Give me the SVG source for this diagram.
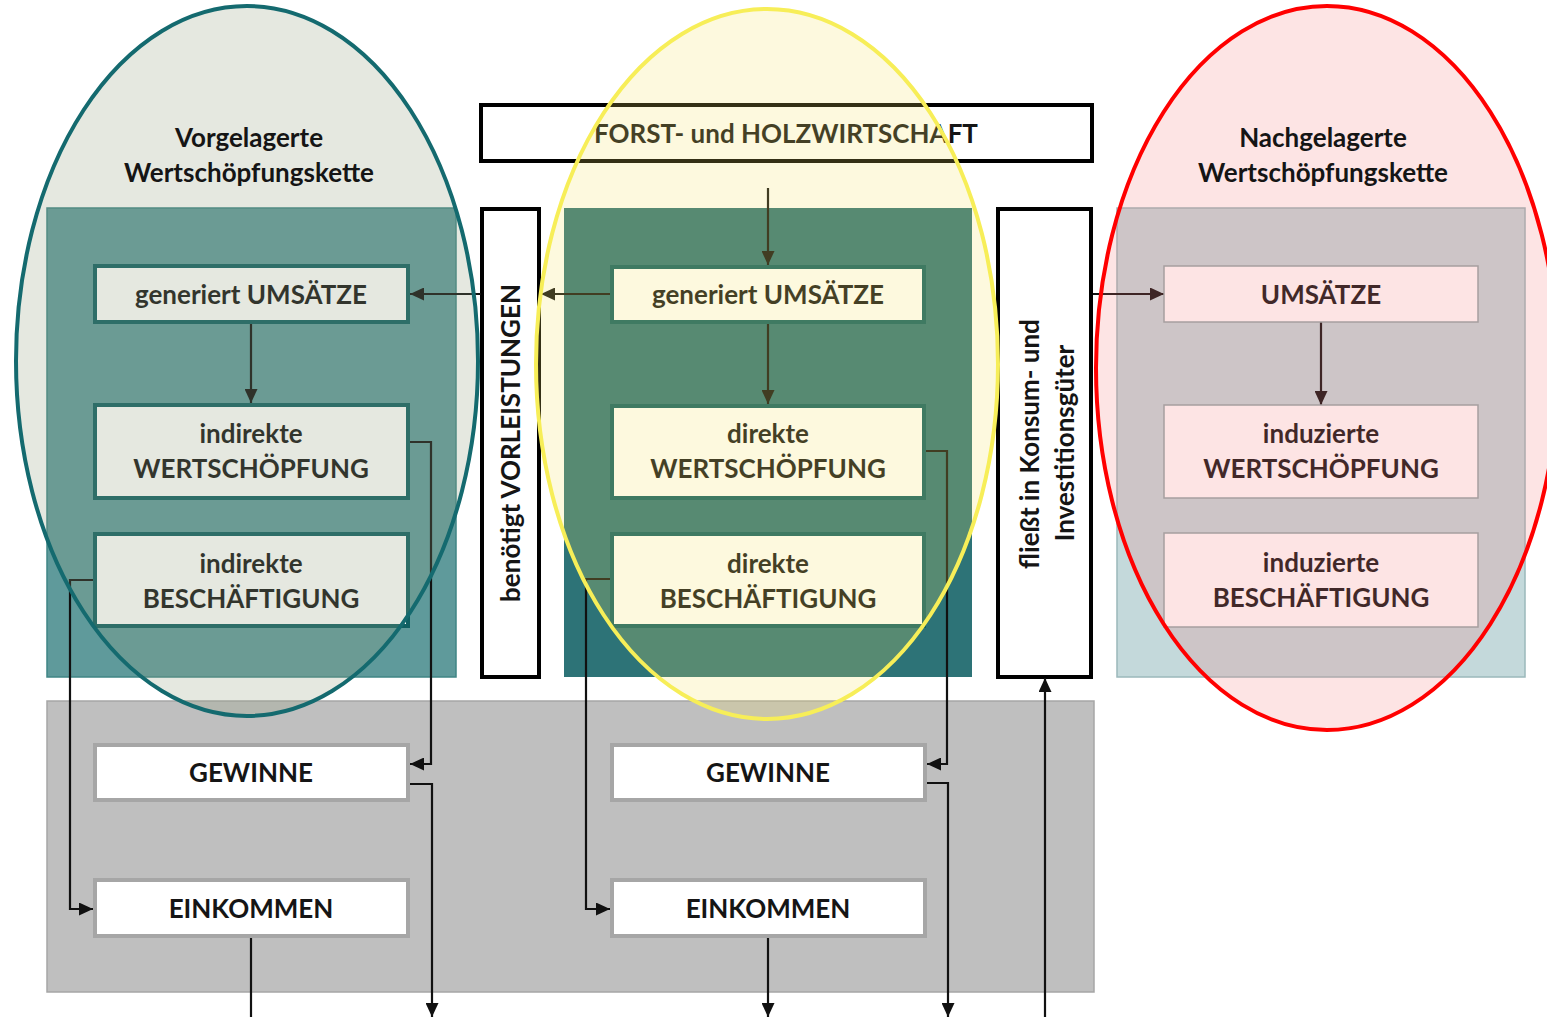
<svg xmlns="http://www.w3.org/2000/svg" width="1547" height="1017" viewBox="0 0 1547 1017">
<style>
text { font-family: Lato, "Open Sans", "Liberation Sans", sans-serif; font-weight: bold; font-size: 26px; fill: #151515; text-anchor: middle; }
.conn { fill: none; stroke: #111; stroke-width: 2.2; }
.ibox { fill: #fff; stroke: #0f5f62; stroke-width: 4; }
.rbox { fill: #fff; stroke: #93a9ab; stroke-width: 1.5; }
.gbox { fill: #fff; stroke: #a6a6a6; stroke-width: 4; }
.bbox { fill: #fff; stroke: #000; stroke-width: 4; }
</style>
<defs>
<marker id="ah" markerUnits="userSpaceOnUse" markerWidth="14" markerHeight="13" refX="14" refY="6.5" orient="auto">
<path d="M0,0 L14,6.5 L0,13 z" fill="#111"/>
</marker>
</defs>

<g id="backgrounds">
<rect id="panel-left" x="47" y="208" width="409" height="469" fill="#5f9a9b" stroke="#3f8585" stroke-width="1.5"/>
<rect id="panel-center" x="564" y="208" width="408" height="469" fill="#2d7377"/>
<rect id="panel-right" x="1117" y="208" width="408" height="469" fill="#c4d9db" stroke="#9bb8bb" stroke-width="1.5"/>
<rect id="panel-bottom" x="47" y="701" width="1047" height="291" fill="#bfbfbf" stroke="#a6a6a6" stroke-width="1.5"/>
</g>

<g id="forst"><rect class="bbox" x="481" y="105" width="611" height="56"/><text x="786" y="143">FORST- und HOLZWIRTSCHAFT</text></g>
<g id="vorleistungen"><rect class="bbox" x="482" y="209" width="57" height="468"/><text transform="translate(520,443) rotate(-90)">benötigt VORLEISTUNGEN</text></g>
<g id="konsum"><rect class="bbox" x="998" y="209" width="93" height="468"/><text transform="translate(1039,444) rotate(-90)">fließt in Konsum- und</text><text transform="translate(1074,443) rotate(-90)">Investitionsgüter</text></g>

<g id="connectors">
<path class="conn" d="M768,188 V265" marker-end="url(#ah)"/>
<path class="conn" d="M610,294 H541" marker-end="url(#ah)"/>
<path class="conn" d="M481,294 H410" marker-end="url(#ah)"/>
<path class="conn" d="M251,324 V403" marker-end="url(#ah)"/>
<path class="conn" d="M768,324 V404" marker-end="url(#ah)"/>
<path class="conn" d="M1093,294 H1164" marker-end="url(#ah)"/>
<path class="conn" d="M1321,322 V405" marker-end="url(#ah)"/>
<path class="conn" d="M409,442 H431 V764 H410" marker-end="url(#ah)"/>
<path class="conn" d="M409,784 H432 V1017" marker-end="url(#ah)"/>
<path class="conn" d="M93,580 H70 V909 H93" marker-end="url(#ah)"/>
<path class="conn" d="M251,937 V1017"/>
<path class="conn" d="M926,451 H947 V764 H927" marker-end="url(#ah)"/>
<path class="conn" d="M926,783 H948 V1017" marker-end="url(#ah)"/>
<path class="conn" d="M610,579 H586 V909 H610" marker-end="url(#ah)"/>
<path class="conn" d="M768,937 V1017" marker-end="url(#ah)"/>
<path class="conn" d="M1045,1017 V678" marker-end="url(#ah)"/>
</g>

<g id="l-umsatz"><rect class="ibox" x="95" y="266" width="313" height="56"/><text x="251" y="304">generiert UMSÄTZE</text></g>
<g id="l-wert"><rect class="ibox" x="95" y="405" width="313" height="93"/><text x="251" y="443">indirekte</text><text x="251" y="478">WERTSCHÖPFUNG</text></g>
<g id="l-besch"><rect class="ibox" x="95" y="534" width="313" height="92"/><text x="251" y="573">indirekte</text><text x="251" y="608">BESCHÄFTIGUNG</text></g>
<g id="l-gewinne"><rect class="gbox" x="95" y="745" width="313" height="55"/><text x="251" y="782">GEWINNE</text></g>
<g id="l-einkommen"><rect class="gbox" x="95" y="880" width="313" height="56"/><text x="251" y="918">EINKOMMEN</text></g>

<g id="c-umsatz"><rect class="ibox" x="612" y="267" width="312" height="55"/><text x="768" y="304">generiert UMSÄTZE</text></g>
<g id="c-wert"><rect class="ibox" x="612" y="406" width="312" height="92"/><text x="768" y="443">direkte</text><text x="768" y="478">WERTSCHÖPFUNG</text></g>
<g id="c-besch"><rect class="ibox" x="612" y="534" width="312" height="92"/><text x="768" y="573">direkte</text><text x="768" y="608">BESCHÄFTIGUNG</text></g>
<g id="c-gewinne"><rect class="gbox" x="612" y="745" width="313" height="55"/><text x="768" y="782">GEWINNE</text></g>
<g id="c-einkommen"><rect class="gbox" x="612" y="880" width="313" height="56"/><text x="768" y="918">EINKOMMEN</text></g>

<g id="r-umsatz"><rect class="rbox" x="1164" y="266" width="314" height="56"/><text x="1321" y="304">UMSÄTZE</text></g>
<g id="r-wert"><rect class="rbox" x="1164" y="405" width="314" height="93"/><text x="1321" y="443">induzierte</text><text x="1321" y="478">WERTSCHÖPFUNG</text></g>
<g id="r-besch"><rect class="rbox" x="1164" y="533" width="314" height="94"/><text x="1321" y="572">induzierte</text><text x="1321" y="607">BESCHÄFTIGUNG</text></g>

<g id="vorgelagert">
<ellipse cx="247" cy="361" rx="231" ry="355" fill="rgb(147,159,126)" fill-opacity="0.24" stroke="#146a6f" stroke-width="4"/>
<text x="249" y="147">Vorgelagerte</text><text x="249" y="182">Wertschöpfungskette</text>
</g>
<g id="direkt">
<ellipse cx="767" cy="364" rx="231" ry="355" fill="rgb(245,229,100)" fill-opacity="0.21" stroke="#f7ee58" stroke-width="4"/>
</g>
<g id="nachgelagert">
<ellipse cx="1327" cy="368" rx="231" ry="362" fill="rgb(245,120,120)" fill-opacity="0.2" stroke="#ff0000" stroke-width="4"/>
<text x="1323" y="147">Nachgelagerte</text><text x="1323" y="182">Wertschöpfungskette</text>
</g>
</svg>
